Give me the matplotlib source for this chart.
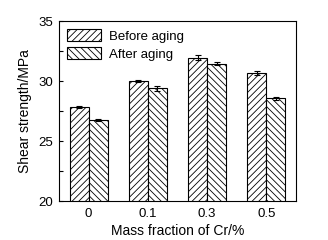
import numpy as np
import matplotlib
matplotlib.use("Agg")
import matplotlib.pyplot as plt

categories = ["0", "0.1", "0.3", "0.5"]
before_aging = [27.85, 29.98, 31.95, 30.67]
before_err = [0.08, 0.10, 0.18, 0.18]
after_aging = [26.72, 29.38, 31.45, 28.55]
after_err = [0.08, 0.18, 0.15, 0.15]

plt.rcParams["font.family"] = ["Liberation Sans", "DejaVu Sans"]
plt.rcParams["font.size"] = 9.5
plt.rcParams["hatch.linewidth"] = 0.6

fig = plt.figure(figsize=(3.28, 2.40), dpi=100)
ax = fig.add_axes([59 / 328, 1 - 201 / 240, 237 / 328, 180 / 240])

x = np.arange(len(categories))
w = 0.32
ax.bar(x - w / 2, before_aging, w, yerr=before_err, color="white", edgecolor="black",
       linewidth=0.8, hatch="/////", label="Before aging",
       error_kw=dict(elinewidth=0.8, capsize=2, capthick=0.8))
ax.bar(x + w / 2, after_aging, w, yerr=after_err, color="white", edgecolor="black",
       linewidth=0.8, hatch="\\\\\\\\\\", label="After aging",
       error_kw=dict(elinewidth=0.8, capsize=2, capthick=0.8))

ax.set_xlim(-0.5, 3.5)
ax.set_ylim(20, 35)
ax.set_xticks(x)
ax.set_xticklabels(categories)
ax.set_yticks([20, 25, 30, 35])
ax.set_yticks([22.5, 27.5, 32.5], minor=True)
ax.tick_params(axis="y", which="both", direction="in", length=3, width=0.8, pad=4)
ax.tick_params(axis="x", length=0, pad=5)
ax.tick_params(labelsize=9.5)
for s in ax.spines.values():
    s.set_linewidth(0.8)

ax.set_xlabel("Mass fraction of Cr/%", fontsize=10, labelpad=3)
ax.set_ylabel("Shear strength/MPa", fontsize=10, labelpad=5)

ax.legend(loc="upper left", frameon=False, fontsize=9.5, handlelength=2.6,
          handleheight=1.05, borderaxespad=0.2, labelspacing=0.35, handletextpad=0.6,
          borderpad=0.4)

fig.savefig("out.png", dpi=100)
